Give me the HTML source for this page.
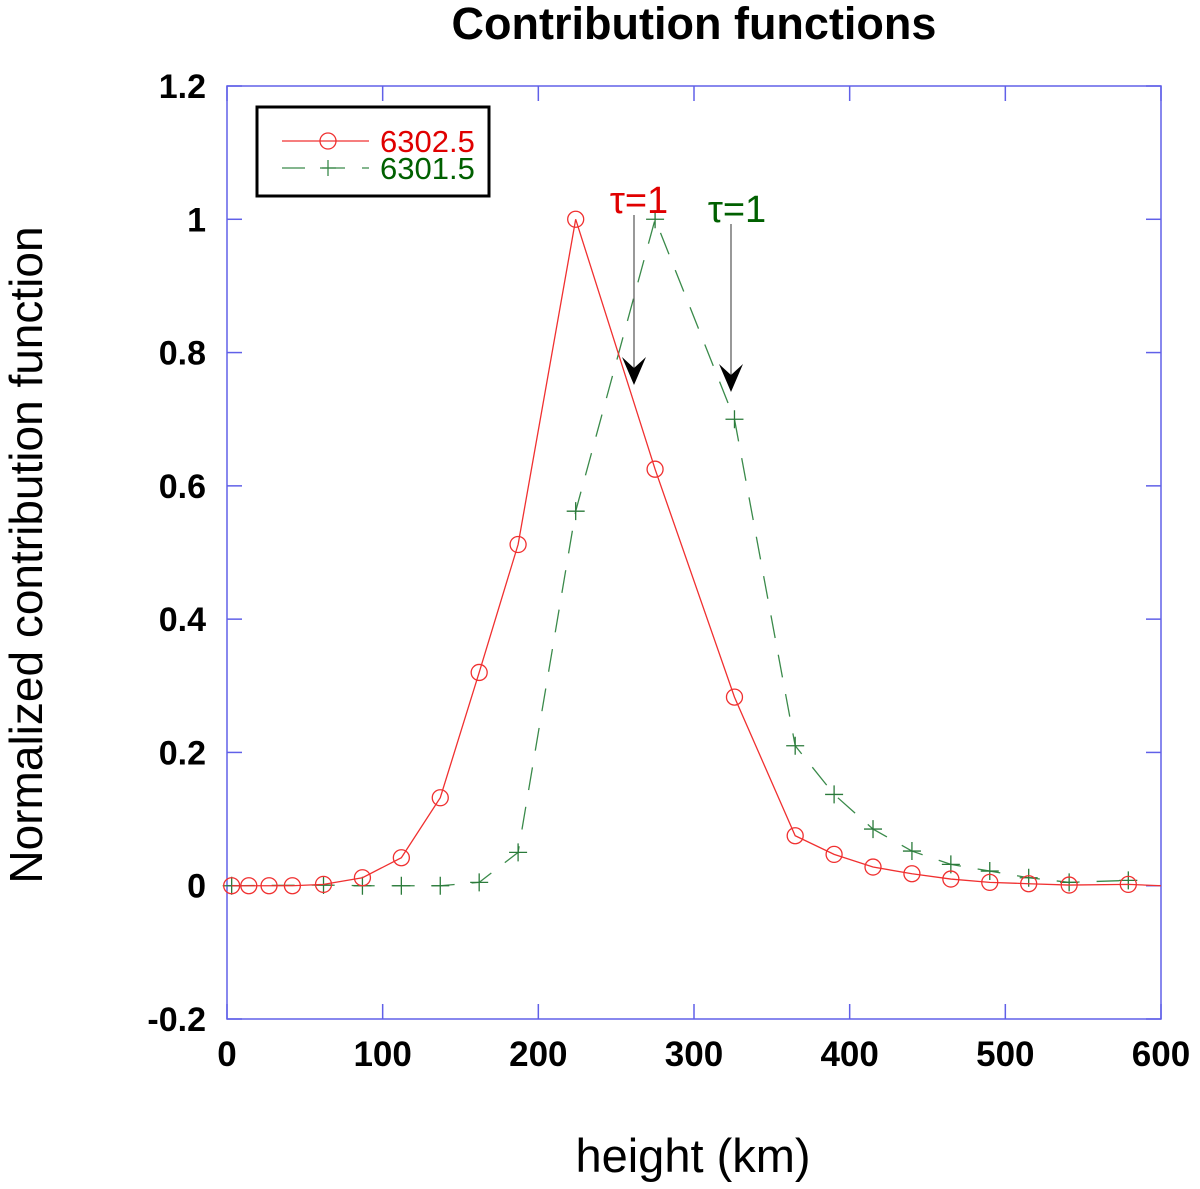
<!DOCTYPE html>
<html><head><meta charset="utf-8"><style>
body{margin:0;background:#fff;}
svg{display:block;font-family:"Liberation Sans",Arial,sans-serif;}
</style></head><body>
<svg id="chart" width="1200" height="1189" viewBox="0 0 1200 1189">
<text x="694" y="39" text-anchor="middle" font-size="45" font-weight="bold">Contribution functions</text>
<text x="693" y="1172" text-anchor="middle" font-size="47">height (km)</text>
<text transform="translate(42,555) rotate(-90)" text-anchor="middle" font-size="46">Normalized contribution function</text>
<g id="axes"></g>
<g id="series"></g>
<g>
<rect x="257" y="107" width="232" height="89" fill="#fff" stroke="#000" stroke-width="3"/>
<g>
<line x1="282" y1="141" x2="369" y2="141" stroke="#f03030" stroke-width="1.3"/>
<circle cx="328" cy="141" r="8" fill="none" stroke="#f03030" stroke-width="1.3"/>
<text x="380" y="152" font-size="31" fill="#e00000">6302.5</text>
</g>
<g>
<line x1="282" y1="168" x2="369" y2="168" stroke="#3a8a4a" stroke-width="1.3" stroke-dasharray="23,17"/>
<line x1="320" y1="168" x2="336" y2="168" stroke="#3a8a4a" stroke-width="1.3"/>
<line x1="328" y1="160" x2="328" y2="176" stroke="#3a8a4a" stroke-width="1.3"/>
<text x="380" y="179" font-size="31" fill="#006000">6301.5</text>
</g>
</g>
<g>
<text x="639" y="213" text-anchor="middle" font-size="38" fill="#e00000">τ=1</text>
<line x1="634" y1="215" x2="634" y2="375" stroke="#555" stroke-width="1.2"/>
<path d="M622,357 L634,385 L646,357 L634,368 Z" fill="#000"/>
</g>
<g>
<text x="737" y="222" text-anchor="middle" font-size="38" fill="#006000">τ=1</text>
<line x1="731" y1="224" x2="731" y2="383" stroke="#555" stroke-width="1.2"/>
<path d="M719,364 L731,392 L743,364 L731,375 Z" fill="#000"/>
</g>
</svg>
<script>
const xTicks=[0,100,200,300,400,500,600];
const yTicks=[-0.2,0,0.2,0.4,0.6,0.8,1,1.2];
const yTickLabels=["-0.2","0","0.2","0.4","0.6","0.8","1","1.2"];
const redX=[3,14,27,42,62,87,112,137,162,187,224,275,326,365,390,415,440,465,490,515,541,579,600];
const redY=[0,0,0,0,0.002,0.012,0.042,0.132,0.32,0.512,1.0,0.625,0.283,0.075,0.047,0.028,0.018,0.01,0.005,0.003,0.001,0.002,0];
const redMarked=22;
const greenX=[3,62,87,112,137,162,187,224,275,326,365,390,415,440,465,490,515,541,579];
const greenY=[0,0.001,0,0,0,0.005,0.05,0.562,1.0,0.7,0.21,0.137,0.085,0.052,0.032,0.022,0.012,0.005,0.008];
const X0=227,X1=1161,Y0=1019,Y1=86,XMIN=0,XMAX=600,YMIN=-0.2,YMAX=1.2;
function sx(v){return X0+(v-XMIN)/(XMAX-XMIN)*(X1-X0);}
function sy(v){return Y0-(v-YMIN)/(YMAX-YMIN)*(Y0-Y1);}
const NS="http://www.w3.org/2000/svg";
function mk(tag,attrs,parent){const e=document.createElementNS(NS,tag);for(const k in attrs)e.setAttribute(k,attrs[k]);parent.appendChild(e);return e;}
const axes=document.getElementById('axes');
const frame=mk('rect',{x:X0,y:Y1,width:X1-X0,height:Y0-Y1,fill:'none',stroke:'#6060e8','stroke-width':1.5},axes);


xTicks.forEach(t=>{
 const x=sx(t);
 mk('line',{x1:x,y1:Y0,x2:x,y2:Y0-15,stroke:'#6060e8','stroke-width':1.5},axes);
 mk('line',{x1:x,y1:Y1,x2:x,y2:Y1+15,stroke:'#6060e8','stroke-width':1.5},axes);
 const tx=mk('text',{x:x,y:Y0+47,'text-anchor':'middle','font-size':35,'font-weight':'bold'},axes);
 tx.textContent=t;
 
 
});
yTicks.forEach((t,i)=>{
 const y=sy(t);
 mk('line',{x1:X0,y1:y,x2:X0+15,y2:y,stroke:'#6060e8','stroke-width':1.5},axes);
 mk('line',{x1:X1,y1:y,x2:X1-15,y2:y,stroke:'#6060e8','stroke-width':1.5},axes);
 const tx=mk('text',{x:206,y:y+12,'text-anchor':'end','font-size':34,'font-weight':'bold'},axes);
 tx.textContent=yTickLabels[i];
 
 
});
const ser=document.getElementById('series');
const gG=mk('g',{},ser);


mk('polyline',{points:greenX.map((v,i)=>sx(v)+','+sy(greenY[i])).join(' '),fill:'none',stroke:'#3a8a4a','stroke-width':1.3,'stroke-dasharray':'23,17'},gG);
greenX.forEach((v,i)=>{
 const x=sx(v),y=sy(greenY[i]);
 const p=mk('path',{d:`M${x-9},${y}H${x+9}M${x},${y-9}V${y+9}`,stroke:'#2a7a3a','stroke-width':1.3},gG);
 
 
});
const gR=mk('g',{},ser);


mk('polyline',{points:redX.map((v,i)=>sx(v)+','+sy(redY[i])).join(' '),fill:'none',stroke:'#f03030','stroke-width':1.3},gR);
redX.slice(0,redMarked).forEach((v,i)=>{
 const c=mk('circle',{cx:sx(v),cy:sy(redY[i]),r:8,fill:'none',stroke:'#f03030','stroke-width':1.3},gR);
 
 
});
</script>
</body></html>
